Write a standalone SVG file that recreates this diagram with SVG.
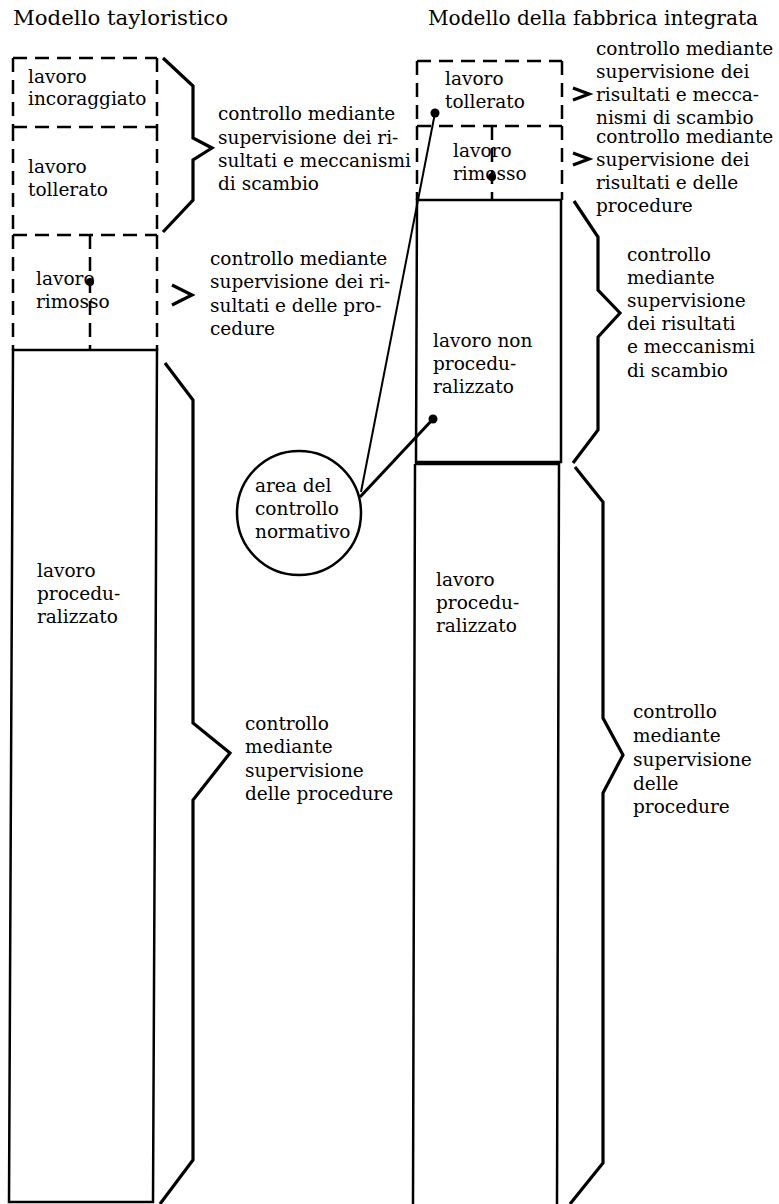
<svg xmlns="http://www.w3.org/2000/svg" width="779" height="1204" viewBox="0 0 779 1204">
<style>
text{font-family:"DejaVu Serif","Liberation Serif",serif;font-size:18.5px;fill:#000}
.title{font-size:20px}
.dash{fill:none;stroke:#000;stroke-width:2.5;stroke-dasharray:14 8}
.solid{fill:none;stroke:#000;stroke-width:2.5}
.brace{fill:none;stroke:#000;stroke-width:3.2;stroke-linejoin:miter}
.conn{fill:none;stroke:#000}
.dot{fill:#000}
</style>
<rect width="779" height="1204" fill="#fff"/>

<g id="titles">
<text class="title" x="13" y="25" textLength="215" lengthAdjust="spacingAndGlyphs">Modello tayloristico</text>
<text class="title" x="428" y="25" textLength="330" lengthAdjust="spacingAndGlyphs">Modello della fabbrica integrata</text>
</g>

<!-- Left column -->
<g id="L-incoraggiato">
<path class="dash" d="M13,58 H157 M13,58 V127 M157,58 V127 M13,127 H157"/>
<text x="28" y="83">lavoro</text>
<text x="28" y="105">incoraggiato</text>
</g>
<g id="L-tollerato">
<path class="dash" d="M13,127 V235 M157,127 V235 M13,235 H157"/>
<text x="28" y="173">lavoro</text>
<text x="28" y="196">tollerato</text>
</g>
<g id="L-rimosso">
<path class="dash" d="M13,235 V350 M157,235 V350 M90,235 V350"/>
<text x="36" y="285">lavoro</text>
<text x="36" y="308">rimosso</text>
<circle class="dot" cx="90" cy="282" r="4"/>
</g>
<g id="L-proceduralizzato">
<path class="solid" d="M13,350 H157 L153,1202 H9 Z"/>
<text x="37" y="577">lavoro</text>
<text x="37" y="600">procedu-</text>
<text x="37" y="623">ralizzato</text>
</g>
<g id="L-brace1">
<path class="brace" d="M163,58 L193,86 V138 L212,148 L193,160 V200 L163,232"/>
<text x="218" y="120">controllo mediante</text>
<text x="218" y="144">supervisione dei ri-</text>
<text x="218" y="167">sultati e meccanismi</text>
<text x="218" y="190">di scambio</text>
</g>
<g id="L-brace2">
<path class="brace" d="M172,285 L192,295 L172,305"/>
<text x="210" y="265">controllo mediante</text>
<text x="210" y="288">supervisione dei ri-</text>
<text x="210" y="312">sultati e delle pro-</text>
<text x="210" y="335">cedure</text>
</g>
<g id="L-brace3">
<path class="brace" d="M165,363 L193,400 V723 L230,753 L193,800 V1160 L160,1204"/>
<text x="245" y="730">controllo</text>
<text x="245" y="753">mediante</text>
<text x="245" y="777">supervisione</text>
<text x="245" y="800">delle procedure</text>
</g>

<!-- Area del controllo normativo -->
<g id="area-normativo">
<circle class="solid" cx="299" cy="513" r="62"/>
<text x="255" y="492">area del</text>
<text x="255" y="515">controllo</text>
<text x="255" y="538">normativo</text>
</g>

<!-- Right column -->
<g id="R-tollerato">
<path class="dash" d="M417,61 H562 M417,61 V126 M562,61 V126 M417,126 H562"/>
<text x="445" y="85">lavoro</text>
<text x="445" y="108">tollerato</text>
<circle class="dot" cx="435" cy="113" r="4.5"/>
</g>
<g id="R-rimosso">
<path class="dash" d="M417,126 V200 M562,126 V200 M492,126 V200"/>
<text x="453" y="157">lavoro</text>
<text x="453" y="180">rimosso</text>
<circle class="dot" cx="492" cy="177" r="4"/>
</g>
<g id="R-nonproceduralizzato">
<path class="solid" d="M417,200 H561 V462 H416 Z"/>
<text x="433" y="347">lavoro non</text>
<text x="433" y="370">procedu-</text>
<text x="433" y="393">ralizzato</text>
<circle class="dot" cx="433" cy="419" r="4.5"/>
</g>
<g id="R-proceduralizzato">
<path class="solid" d="M415,464 H559 L557,1204 M415,464 L413,1204"/>
<text x="436" y="586">lavoro</text>
<text x="436" y="609">procedu-</text>
<text x="436" y="632">ralizzato</text>
</g>
<g id="R-brace1">
<path class="brace" d="M573,88 L589,94 L573,100"/>
<text x="596" y="55">controllo mediante</text>
<text x="596" y="78">supervisione dei</text>
<text x="596" y="101">risultati e mecca-</text>
<text x="596" y="124">nismi di scambio</text>
</g>
<g id="R-brace2">
<path class="brace" d="M573,153 L589,159 L573,165"/>
<text x="596" y="143">controllo mediante</text>
<text x="596" y="166">supervisione dei</text>
<text x="596" y="189">risultati e delle</text>
<text x="596" y="212">procedure</text>
</g>
<g id="R-brace3">
<path class="brace" d="M574,201 L598,237 V290 L620,313 L598,337 V430 L573,463"/>
<text x="627" y="261">controllo</text>
<text x="627" y="284">mediante</text>
<text x="627" y="307">supervisione</text>
<text x="627" y="330">dei risultati</text>
<text x="627" y="353">e meccanismi</text>
<text x="627" y="377">di scambio</text>
</g>
<g id="R-brace4">
<path class="brace" d="M575,467 L603,502 V718 L623,755 L603,793 V1163 L570,1204"/>
<text x="633" y="718">controllo</text>
<text x="633" y="742">mediante</text>
<text x="633" y="766">supervisione</text>
<text x="633" y="790">delle</text>
<text x="633" y="813">procedure</text>
</g>

<g id="connectors">
<line class="conn" stroke-width="2" x1="361" y1="492" x2="435" y2="113"/>
<line class="conn" stroke-width="3" x1="360" y1="497" x2="433" y2="419"/>
</g>
</svg>
